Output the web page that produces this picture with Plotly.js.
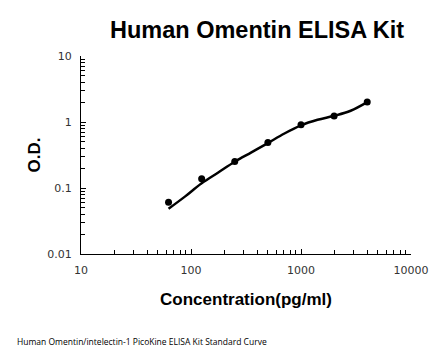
<!DOCTYPE html>
<html><head><meta charset="utf-8">
<script src="https://cdn.plot.ly/plotly-3.0.1.min.js"></script>
<style>html,body{margin:0;padding:0;background:#fff}#chart{width:446px;height:356px}</style>
</head><body><div id="chart"></div>
<script>
const concentrations = [62.5, 125, 250, 500, 1000, 2000, 4000];
const odValues = [0.061, 0.138, 0.253, 0.49, 0.91, 1.23, 2.01];
const curveX = [62.5, 88, 125, 177, 250, 354, 500, 707, 1000, 1414, 2000, 2828, 4000];
const curveY = [0.0485, 0.074, 0.118, 0.172, 0.25, 0.346, 0.48, 0.67, 0.89, 1.08, 1.24, 1.48, 2.0];
const xTickVals = [10, 100, 1000, 10000];
const xTickText = ['10', '100', '1000', '10000'];
const yTickVals = [0.01, 0.1, 1, 10];
const yTickText = ['0.01', '0.1', '1', '10'];

const font = 'Liberation Sans, Arial, sans-serif';
const tickFont = {size: 11, color: '#333', family: 'DejaVu Sans, Verdana, sans-serif'};
const traces = [
  {x: curveX, y: curveY, mode: 'lines', line: {color: '#000', width: 2.5, shape: 'spline'}, hoverinfo: 'skip'},
  {x: concentrations, y: odValues, mode: 'markers', marker: {color: '#000', size: 7}}
];
const layout = {
  width: 446, height: 356,
  margin: {l: 81, r: 35, t: 56, b: 102},
  paper_bgcolor: '#fff', plot_bgcolor: '#fff',
  showlegend: false,
  font: {family: font, color: '#000', size: 11},
  xaxis: {
    type: 'log', range: [1, 4], tickmode: 'array', tickvals: xTickVals, ticktext: xTickText,
    ticks: 'inside', ticklen: 5, tickcolor: '#000', showgrid: false, zeroline: false,
    showline: true, linecolor: '#000', linewidth: 1,
    minor: {tickmode: 'linear', dtick: 'D1', ticks: 'inside', ticklen: 4, tickcolor: '#000', showgrid: false},
    tickfont: tickFont, ticklabelstandoff: 6,
    title: {text: 'Concentration(pg/ml)', font: {size: 17, family: font, weight: 'bold'}, standoff: 16}
  },
  yaxis: {
    type: 'log', range: [-2, 1], tickmode: 'array', tickvals: yTickVals, ticktext: yTickText,
    ticks: 'inside', ticklen: 5, tickcolor: '#000', showgrid: false, zeroline: false,
    showline: true, linecolor: '#000', linewidth: 1,
    minor: {tickmode: 'linear', dtick: 'D1', ticks: 'inside', ticklen: 4, tickcolor: '#000', showgrid: false},
    tickfont: tickFont, ticklabelstandoff: 6,
    title: {text: 'O.D.', font: {size: 17, family: font, weight: 'bold'}, standoff: 2}
  },
  annotations: [
    {text: '<b>Human Omentin ELISA Kit</b>', xref: 'paper', yref: 'paper', x: 0.534, y: 1, yshift: 26,
     xanchor: 'center', yanchor: 'middle', showarrow: false, font: {size: 23.5, family: font, color: '#000'}},
    {text: 'Human Omentin/intelectin-1 PicoKine ELISA Kit Standard Curve', xref: 'paper', yref: 'paper',
     x: 0, xshift: -66, y: 0, yshift: -87, xanchor: 'left', yanchor: 'middle', showarrow: false,
     font: {size: 8.5, family: 'Open Sans, DejaVu Sans, sans-serif', color: '#000'}}
  ]
};
Plotly.newPlot('chart', traces, layout, {displayModeBar: false, staticPlot: true});
</script></body></html>
